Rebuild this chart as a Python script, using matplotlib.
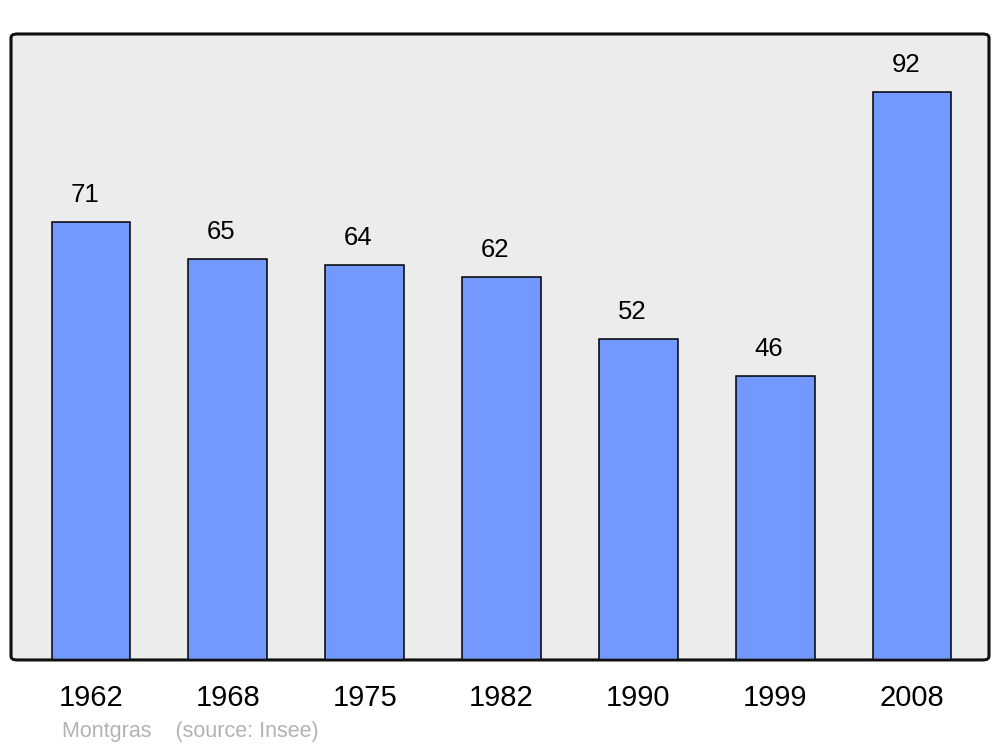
import matplotlib.pyplot as plt
from matplotlib.patches import FancyBboxPatch

years = ["1962", "1968", "1975", "1982", "1990", "1999", "2008"]
population = [71, 65, 64, 62, 52, 46, 92]

plt.rcParams['font.family'] = ['Liberation Sans', 'DejaVu Sans']

fig = plt.figure(figsize=(10, 7.47), dpi=100)
ax = fig.add_axes([0.011, 0.1165, 0.978, 0.838])

x = range(len(years))
ax.bar(x, population, width=0.575, color="#7399ff", edgecolor="black",
       linewidth=1.1, zorder=2)
for i, v in enumerate(population):
    ax.annotate(str(v), (i, v), xytext=(-4.5, 19.5), textcoords="offset points",
                ha="center", va="center", fontsize=18.5)

ax.set_xlim(-0.584, 6.562)
ax.set_ylim(0, 101.4)
ax.set_xticks(list(x))
ax.set_xticklabels(years, fontsize=21)
ax.tick_params(axis="x", length=0, pad=17)
ax.set_yticks([])
for s in ax.spines.values():
    s.set_visible(False)
ax.patch.set_visible(False)

# rounded frame: background behind bars, outline on top
frame = FancyBboxPatch((0, 0), 1, 1, boxstyle="round,pad=0,rounding_size=0.006",
                       transform=ax.transAxes, facecolor="#ececec",
                       edgecolor="#111111", linewidth=1.9, zorder=0, clip_on=False)
ax.add_patch(frame)
frame2 = FancyBboxPatch((0, 0), 1, 1, boxstyle="round,pad=0,rounding_size=0.006",
                        transform=ax.transAxes, facecolor="none",
                        edgecolor="#111111", linewidth=1.9, zorder=3, clip_on=False)
ax.add_patch(frame2)

fig.text(0.062, 0.021, "Montgras    (source: Insee)", color="#b3b3b3",
         fontsize=15.5, va="center", ha="left")

fig.savefig("out.png", dpi=100)
